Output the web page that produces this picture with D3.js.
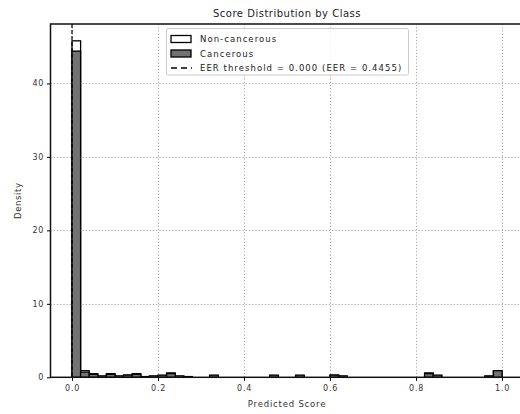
<!DOCTYPE html>
<html>
<head>
<meta charset="utf-8">
<script src="https://cdn.jsdelivr.net/npm/d3@7"></script>
<style>
  html, body { margin: 0; padding: 0; background: #fff; }
  svg { display: block; font-family: "DejaVu Sans", sans-serif; }
</style>
</head>
<body>
<svg id="chart" width="520" height="414"></svg>
<script>
// Histogram bins: 50 equal-width bins on [0, 1]
const binCount = 50;
const binWidth = 1 / binCount;

// Density per bin, indexed by bin number (unlisted bins are 0)
const nonCancerousBins = { 0: 45.8, 1: 0.9, 2: 0.5, 3: 0.2, 4: 0.5, 5: 0.2, 6: 0.3, 7: 0.5, 8: 0.1,
  9: 0.2, 10: 0.2, 11: 0.6, 12: 0.2, 13: 0.1, 16: 0.2, 23: 0.2, 26: 0.2, 30: 0.3, 31: 0.2,
  41: 0.6, 42: 0.2, 49: 0.8 };
const cancerousBins = { 0: 44.4, 1: 0.7, 2: 0.4, 4: 0.4, 6: 0.3, 7: 0.4, 10: 0.3, 11: 0.5,
  16: 0.3, 23: 0.3, 26: 0.3, 30: 0.3, 41: 0.5, 42: 0.3, 48: 0.2, 49: 0.9 };

const seriesNames = ["Non-cancerous", "Cancerous"];
const eerThreshold = 0.000;
const eerValue = 0.4455;

const xTicks = [0.0, 0.2, 0.4, 0.6, 0.8, 1.0];
const yTicks = [0, 10, 20, 30, 40];

const toBars = obj => d3.range(binCount).map(i => ({ x0: i * binWidth, x1: (i + 1) * binWidth, v: obj[i] || 0 }));
const nonBars = toBars(nonCancerousBins);
const canBars = toBars(cancerousBins);

const svg = d3.select("#chart");
const plotLeft = 50.5, plotRight = 523.5, plotTop = 24, plotBottom = 377.3;

const x = d3.scaleLinear().domain([-0.05, 1.05]).range([plotLeft, plotRight]);
const yMax = d3.max(nonBars.concat(canBars), d => d.v) * 1.05;
const y = d3.scaleLinear().domain([0, yMax]).range([plotBottom, plotTop]);

// Grid
const grid = svg.append("g").attr("stroke", "#a8a8a8").attr("stroke-width", 1)
  .attr("stroke-dasharray", "1.2,2");
grid.selectAll(".gx").data(xTicks).join("line")
  .attr("x1", d => Math.round(x(d)) + 0.5).attr("x2", d => Math.round(x(d)) + 0.5)
  .attr("y1", plotTop).attr("y2", plotBottom);
grid.selectAll(".gy").data(yTicks.filter(d => d > 0)).join("line")
  .attr("x1", plotLeft).attr("x2", plotRight)
  .attr("y1", d => Math.round(y(d)) + 0.5).attr("y2", d => Math.round(y(d)) + 0.5);

// Bars
function drawBars(data, fill) {
  svg.append("g").selectAll("rect").data(data.filter(d => d.v > 0)).join("rect")
    .attr("x", d => x(d.x0))
    .attr("width", d => x(d.x1) - x(d.x0))
    .attr("y", d => y(d.v))
    .attr("height", d => y(0) - y(d.v))
    .attr("fill", fill)
    .attr("stroke", "#000")
    .attr("stroke-width", 1.3);
}
drawBars(nonBars, "#ffffff");
drawBars(canBars, "#737373");

// EER threshold line
svg.append("line")
  .attr("x1", x(eerThreshold)).attr("x2", x(eerThreshold))
  .attr("y1", plotTop).attr("y2", plotBottom)
  .attr("stroke", "#000").attr("stroke-width", 1.2).attr("stroke-dasharray", "4,2");

// Axes
const xAxis = d3.axisBottom(x).tickValues(xTicks).tickFormat(d3.format(".1f")).tickSize(3.5).tickSizeOuter(0);
const yAxis = d3.axisLeft(y).tickValues(yTicks).tickFormat(d3.format("d")).tickSize(3.5).tickSizeOuter(0);

const gx = svg.append("g").attr("transform", `translate(0,${plotBottom})`).call(xAxis);
const gy = svg.append("g").attr("transform", `translate(${plotLeft},0)`).call(yAxis);
[gx, gy].forEach(g => {
  g.select(".domain").remove();
  g.selectAll("text").attr("font-size", 8).attr("letter-spacing", 0.7)
    .attr("fill", "#333").attr("font-family", "DejaVu Sans, sans-serif");
  g.selectAll("line").attr("stroke", "#000");
});
gx.selectAll("text").attr("dy", "0.9em");

// Frame
svg.append("rect").attr("x", plotLeft).attr("y", plotTop)
  .attr("width", plotRight - plotLeft).attr("height", plotBottom - plotTop)
  .attr("fill", "none").attr("stroke", "#111").attr("stroke-width", 1.5);

// Titles
const cx = (plotLeft + plotRight) / 2;
svg.append("text").attr("x", cx).attr("y", 17).attr("text-anchor", "middle")
  .attr("font-size", 10).attr("letter-spacing", 0.5).attr("fill", "#222").text("Score Distribution by Class");
svg.append("text").attr("x", cx).attr("y", 407).attr("text-anchor", "middle")
  .attr("font-size", 8.5).attr("letter-spacing", 0.8).attr("fill", "#333").text("Predicted Score");
svg.append("text").attr("transform", `translate(21,${(plotTop + plotBottom) / 2}) rotate(-90)`)
  .attr("text-anchor", "middle").attr("font-size", 8.5).attr("letter-spacing", 0.6)
  .attr("fill", "#333").text("Density");

// Legend
const lg = svg.append("g");
lg.append("rect").attr("x", 166.5).attr("y", 28.5).attr("width", 242).attr("height", 46.5)
  .attr("fill", "#fff").attr("fill-opacity", 0.85).attr("stroke", "#ccc").attr("stroke-width", 1).attr("rx", 2);
const rows = [
  { label: seriesNames[0], kind: "patch", fill: "#ffffff" },
  { label: seriesNames[1], kind: "patch", fill: "#737373" },
  { label: `EER threshold = ${eerThreshold.toFixed(3)} (EER = ${eerValue.toFixed(4)})`, kind: "line" }
];
rows.forEach((r, i) => {
  const ry = 39 + i * 14.5;
  if (r.kind === "patch") {
    lg.append("rect").attr("x", 171).attr("y", ry - 3.5).attr("width", 20).attr("height", 7)
      .attr("fill", r.fill).attr("stroke", "#000").attr("stroke-width", 1.3);
  } else {
    lg.append("line").attr("x1", 171).attr("x2", 192).attr("y1", ry).attr("y2", ry)
      .attr("stroke", "#000").attr("stroke-width", 1.4).attr("stroke-dasharray", "6,4");
  }
  lg.append("text").attr("x", 200).attr("y", ry + 3).attr("font-size", 8.5)
    .attr("letter-spacing", 1.05).attr("fill", "#222").text(r.label);
});
</script>
</body>
</html>
